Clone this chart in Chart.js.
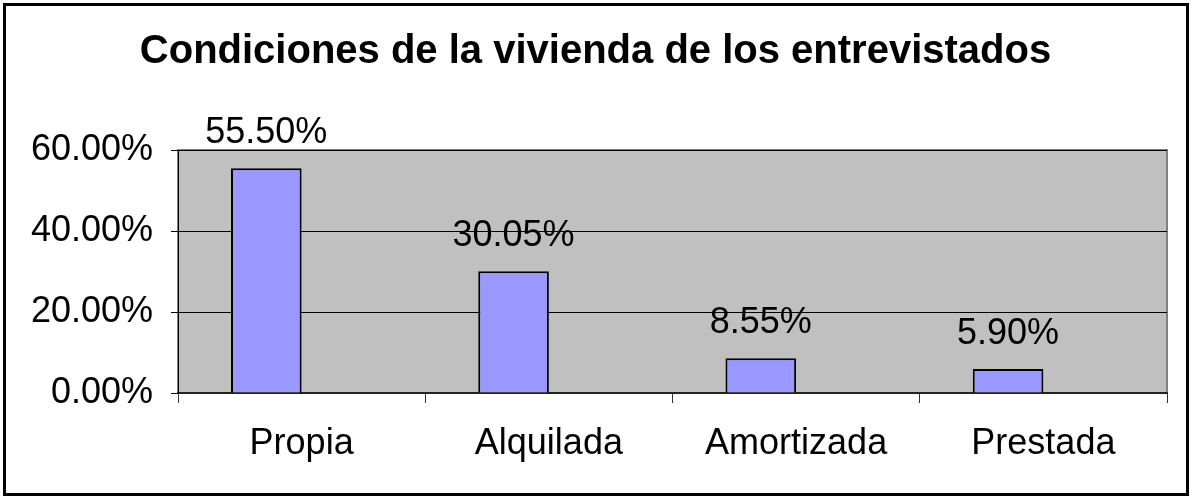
<!DOCTYPE html>
<html>
<head>
<meta charset="utf-8">
<script src="https://cdn.jsdelivr.net/npm/chart.js@4/dist/chart.umd.min.js"></script>
<style>
  html, body { margin: 0; padding: 0; background: #fff; }
  #wrap { width: 1191px; height: 498px; }
</style>
</head>
<body>
<div id="wrap"><canvas id="viviendaChart" width="1191" height="498"></canvas></div>
<script>
// Chart values
const categories = ['Propia', 'Alquilada', 'Amortizada', 'Prestada'];
const percentages = [55.50, 30.05, 8.55, 5.90];
const emptySeries = [null, null, null, null]; // Excel's second (blank) series pushes bars left
const yTicks = [0, 20, 40, 60];

const fontFamily = "'Liberation Sans', Arial, sans-serif";

// gray plot area + outer frame
const backgroundPlugin = {
    id: 'plotBackground',
    beforeDraw(chart) {
        const { ctx, chartArea: a } = chart;
        ctx.save();
        ctx.fillStyle = '#fff';
        ctx.fillRect(0, 0, chart.width, chart.height);
        ctx.fillStyle = '#c0c0c0';
        ctx.fillRect(a.left, a.top, a.right - a.left, a.bottom - a.top);
        ctx.strokeStyle = '#808080';
        ctx.lineWidth = 2;
        ctx.strokeRect(a.left, a.top, a.right - a.left, a.bottom - a.top);
        ctx.strokeStyle = '#000';
        ctx.lineWidth = 3;
        ctx.strokeRect(4.5, 4.5, chart.width - 8, chart.height - 8);
        ctx.restore();
    }
};

// value labels above bars
const valueLabels = {
    id: 'valueLabels',
    afterDatasetsDraw(chart) {
        const { ctx } = chart;
        const meta = chart.getDatasetMeta(0);
        ctx.save();
        ctx.fillStyle = '#000';
        ctx.font = '36px ' + fontFamily;
        ctx.textAlign = 'center';
        ctx.textBaseline = 'alphabetic';
        meta.data.forEach((bar, i) => {
            ctx.fillText(percentages[i].toFixed(2) + '%', bar.x, bar.y - 25);
        });
        ctx.restore();
    }
};

const ctx = document.getElementById('viviendaChart').getContext('2d');

new Chart(ctx, {
    type: 'bar',
    data: {
        labels: categories,
        datasets: [{
            data: percentages,
            backgroundColor: '#9999ff',
            borderColor: '#000',
            borderWidth: 2,
            categoryPercentage: 2 / 3.5,
            barPercentage: 1
        }, {
            data: emptySeries,
            backgroundColor: '#9999ff',
            categoryPercentage: 2 / 3.5,
            barPercentage: 1
        }]
    },
    options: {
        responsive: false,
        animation: false,
        layout: { padding: { left: 24, right: 24, top: 0, bottom: 0 } },
        plugins: {
            legend: { display: false },
            tooltip: { enabled: false },
            title: {
                display: true,
                text: 'Condiciones de la vivienda de los entrevistados',
                color: '#000',
                font: { family: fontFamily, size: 40, weight: 'bold' },
                padding: { top: 28, bottom: 74 }
            }
        },
        scales: {
            x: {
                grid: {
                    display: true,
                    drawOnChartArea: false,
                    color: '#333',
                    tickLength: 10,
                    offset: true
                },
                border: { color: '#222', width: 2 },
                ticks: {
                    color: '#000',
                    padding: 19,
                    font: { family: fontFamily, size: 36 }
                },
                afterFit(scale) { scale.height = 105; }
            },
            y: {
                min: 0,
                max: 60,
                afterBuildTicks(scale) {
                    scale.ticks = yTicks.map(v => ({ value: v }));
                },
                grid: { color: '#000', tickLength: 7 },
                border: { color: '#000', width: 1 },
                ticks: {
                    color: '#000',
                    padding: 18,
                    font: { family: fontFamily, size: 36 },
                    callback: v => v.toFixed(2) + '%'
                },
                afterFit(scale) { scale.width = 154; }
            }
        }
    },
    plugins: [backgroundPlugin, valueLabels]
});
</script>
</body>
</html>
